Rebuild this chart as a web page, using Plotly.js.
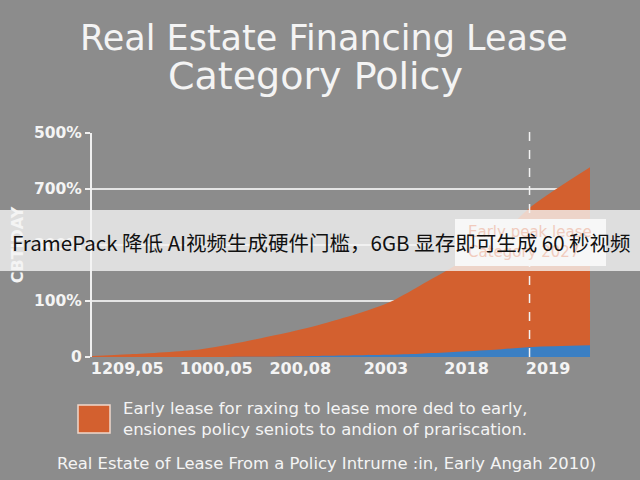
<!DOCTYPE html>
<html>
<head>
<meta charset="utf-8">
<script src="https://cdn.plot.ly/plotly-3.0.1.min.js"></script>
<style>
  body { margin: 0; background: #8c8c8c; }
  #chart { width: 640px; height: 480px; }
</style>
</head>
<body>
<div id="chart"></div>
<script>
// values (y in tick steps, 1 step = one gridline)
var xs = [0, 0.45, 1.3, 2.0, 2.7, 3.5, 3.9, 4.3, 4.8, 5.25, 5.93];
var leaseTotal = [0.02, 0.05, 0.14, 0.33, 0.57, 0.95, 1.27, 1.61, 2.09, 2.71, 3.39];
var policyPart = [0, 0, 0, 0.005, 0.02, 0.04, 0.06, 0.09, 0.13, 0.18, 0.21];

var xTickVals = [0.42, 1.48, 2.48, 3.5, 4.46, 5.43];
var xTickText = ['1209,05', '1000,05', '200,08', '2003', '2018', '2019'];
var yTickVals = [0, 1, 2, 3, 4];
var yTickText = ['0', '100%', '300%', '700%', '500%'];
var markerX = 5.21;

var txt = '#f4f4f4';
var orange = '#d3602f';
var blue = '#3b7fc3';
var face = 'DejaVu Sans, sans-serif';

// plot box in pixels, used to place the loose texts
var L = 92, R = 590, T = 133, B = 357;
function px(x) { return (x - L) / (R - L); }
function py(y) { return (B - y) / (B - T); }

var traces = [
  {x: xs, y: leaseTotal, type: 'scatter', mode: 'lines', fill: 'tozeroy',
   line: {color: orange, width: 0, shape: 'spline', smoothing: 0.8}, fillcolor: orange, hoverinfo: 'skip'},
  {x: xs, y: policyPart, type: 'scatter', mode: 'lines', fill: 'tozeroy',
   line: {color: blue, width: 0, shape: 'spline', smoothing: 0.8}, fillcolor: blue, hoverinfo: 'skip'}
];

var layout = {
  width: 640, height: 480,
  paper_bgcolor: '#8c8c8c', plot_bgcolor: '#8c8c8c',
  margin: {l: L, r: 640 - R, t: T, b: 480 - B},
  showlegend: false,
  font: {family: face, color: txt},
  title: {text: 'Real Estate Financing Lease',
          x: 0.506, xanchor: 'center', y: 1 - 38 / 480, yanchor: 'middle', automargin: false,
          font: {size: 35, color: txt}},
  xaxis: {range: [0, 5.93], tickmode: 'array', tickvals: xTickVals, ticktext: xTickText,
          showgrid: false, zeroline: false, showline: false, ticks: '',
          tickfont: {size: 16, weight: 700, color: txt}, fixedrange: true},
  yaxis: {range: [0, 4], tickmode: 'array', tickvals: yTickVals, ticktext: yTickText,
          showgrid: true, gridcolor: '#e4e4e4', gridwidth: 2, zeroline: false,
          showline: true, linecolor: '#f0f0f0', linewidth: 2,
          ticks: 'outside', ticklen: 5, tickcolor: '#f0f0f0', tickwidth: 2,
          tickfont: {size: 15.5, weight: 700, color: txt},
          title: {text: 'CBTIDAY', standoff: 6, font: {size: 16, weight: 700, color: txt}}},
  shapes: [
    {type: 'line', xref: 'x', yref: 'paper', x0: markerX, x1: markerX, y0: 0, y1: 1.015,
     line: {color: '#f2f2f2', width: 1.5, dash: 'dash'}, layer: 'above'},
    // faded call-out box
    {type: 'rect', xref: 'paper', yref: 'paper', x0: px(455), x1: px(606), y0: py(266), y1: py(219),
     fillcolor: '#ffffff', line: {width: 0}, layer: 'above'},
    // overlay banner
    {type: 'rect', xref: 'paper', yref: 'paper', x0: px(0), x1: px(640), y0: py(271), y1: py(210),
     fillcolor: 'rgba(245,245,245,0.78)', line: {width: 0}, layer: 'above'},
    // legend swatch
    {type: 'rect', xref: 'paper', yref: 'paper', x0: px(78), x1: px(110), y0: py(433), y1: py(405),
     fillcolor: orange, line: {color: '#f0d8cc', width: 1.5}}
  ],
  annotations: [
    {xref: 'paper', yref: 'paper', x: px(315), y: py(76), xanchor: 'center', yanchor: 'middle',
     showarrow: false, text: 'Category Policy', font: {size: 38, color: txt}},
    {xref: 'paper', yref: 'paper', x: px(466), y: py(242), xanchor: 'left', yanchor: 'middle',
     align: 'left', showarrow: false, text: 'Early peak lease<br>Category 2027',
     font: {size: 15, color: '#f1cbbd'}},
    {xref: 'paper', yref: 'paper', x: px(10), y: py(242), xanchor: 'left', yanchor: 'middle',
     showarrow: false, text: 'FramePack 降低 AI视频生成硬件门槛，6GB 显存即可生成 60 秒视频',
     font: {family: 'Noto Sans CJK SC, sans-serif', size: 20.5, color: '#111111'}},
    {xref: 'paper', yref: 'paper', x: px(121), y: py(419), xanchor: 'left', yanchor: 'middle',
     align: 'left', showarrow: false,
     text: 'Early lease for raxing to lease more ded to early,<br>ensiones policy seniots to andion of prariscation.',
     font: {size: 16.5, color: txt}},
    {xref: 'paper', yref: 'paper', x: px(326), y: py(463), xanchor: 'center', yanchor: 'middle',
     showarrow: false, text: 'Real Estate of Lease From a Policy Intrurne :in, Early Angah 2010)',
     font: {size: 16.4, color: txt}}
  ]
};

Plotly.newPlot('chart', traces, layout, {displayModeBar: false, staticPlot: true});
</script>
</body>
</html>
